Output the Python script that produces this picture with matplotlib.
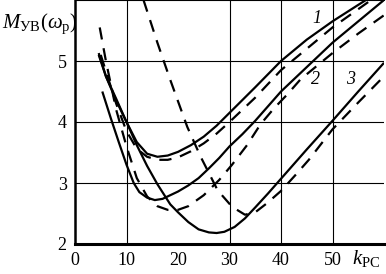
import matplotlib
matplotlib.use("Agg")
import matplotlib.pyplot as plt

plt.rcParams['mathtext.fontset'] = 'custom'
plt.rcParams['mathtext.rm'] = 'Liberation Serif'
plt.rcParams['mathtext.it'] = 'Liberation Serif:italic'
plt.rcParams['font.family'] = ['Liberation Serif', 'DejaVu Serif']

# Solid curves
x1 = [4.6, 6, 8, 10, 12, 14, 16, 18, 20, 22.5, 25, 27.5, 30, 35, 40, 45, 50, 55, 56.5]
y1 = [5.13, 4.75, 4.35, 4.0, 3.67, 3.48, 3.43, 3.45, 3.51, 3.62, 3.76, 3.94, 4.15, 4.57, 5.0, 5.35, 5.65, 5.92, 6.0]

x2 = [5.3, 7, 8.5, 10, 11.4, 12.5, 14, 15.5, 17, 18.5, 20, 22, 24, 26, 28, 30, 32.5, 35, 40, 45, 50, 55, 60]
y2 = [4.5, 4.05, 3.67, 3.3, 3.0, 2.85, 2.76, 2.72, 2.74, 2.8, 2.86, 2.96, 3.08, 3.24, 3.41, 3.6, 3.8, 4.02, 4.5, 4.9, 5.3, 5.65, 6.0]

x3 = [4.6, 6, 8, 10, 12, 14, 16, 18.5, 20, 22, 24, 26, 27.5, 29, 31, 33, 35, 37.5, 40, 45, 50, 55, 60]
y3 = [5.1, 4.75, 4.38, 4.0, 3.62, 3.28, 2.98, 2.65, 2.52, 2.36, 2.24, 2.19, 2.18, 2.2, 2.28, 2.42, 2.6, 2.83, 3.07, 3.55, 4.02, 4.5, 4.97]

# Dashed curves
xd1 = [5, 6.5, 8, 10, 12, 14, 16, 18, 20, 22.5, 25, 27.5, 30, 35, 40, 45, 50, 55, 57.5]
yd1 = [5.1, 4.7, 4.3, 3.85, 3.56, 3.43, 3.38, 3.38, 3.42, 3.52, 3.65, 3.81, 4.0, 4.4, 4.85, 5.2, 5.55, 5.85, 6.0]

xd2 = [4.8, 6, 8, 10, 12, 14, 16, 18, 20, 22, 25, 28, 30.5, 33.4, 36, 38.6, 41.2, 43.8, 50, 55, 60]
yd2 = [5.55, 5.0, 4.2, 3.6, 3.08, 2.78, 2.62, 2.56, 2.56, 2.62, 2.8, 3.05, 3.3, 3.62, 3.96, 4.22, 4.45, 4.7, 5.13, 5.45, 5.75]

xd3 = [13.3, 16, 18.5, 21.8, 24.4, 27.7, 30.5, 33, 35, 37.3, 40, 42.8, 45.4, 50, 55, 60]
yd3 = [6.0, 5.3, 4.69, 3.92, 3.43, 2.88, 2.61, 2.48, 2.52, 2.67, 2.87, 3.13, 3.38, 3.88, 4.32, 4.75]

xticks = [0, 10, 20, 30, 40, 50]
yticks = [2, 3, 4, 5]
xgrid = [10, 30, 40, 50]
ygrid = [3, 4, 5]

curve_labels = ['1', '2', '3']
label_x = [47.0, 46.7, 53.5]
label_y = [5.7, 4.69, 4.69]

fig = plt.figure(figsize=(3.86, 2.74), dpi=100)
ax = fig.add_axes([75/386, 30/274, 309/386, 244/274])
ax.set_xlim(0, 60)
ax.set_ylim(2, 6)

for g in xgrid:
    ax.axvline(g, color='black', lw=0.8, zorder=1)
for g in ygrid:
    ax.axhline(g, color='black', lw=0.8, zorder=1)

lw = 1.6
for xs, ys in [(x1, y1), (x2, y2), (x3, y3)]:
    ax.plot(xs, ys, color='black', lw=lw, solid_capstyle='butt', solid_joinstyle='round', zorder=3)
for xs, ys in [(xd1, yd1), (xd2, yd2), (xd3, yd3)]:
    ax.plot(xs, ys, color='black', lw=lw, dashes=(5.5, 4), dash_capstyle='butt', zorder=3)

for t, lx, ly in zip(curve_labels, label_x, label_y):
    ax.text(lx, ly, t, fontsize=13, style='italic', ha='center', va='center', zorder=4)

ax.set_xticks(xticks)
ax.set_yticks(yticks)
ax.tick_params(length=0, labelsize=13, pad=6)
ax.spines['right'].set_visible(False)
ax.spines['top'].set_linewidth(0.8)
ax.spines['left'].set_linewidth(1.8)
ax.spines['bottom'].set_linewidth(2.2)

fig.text(2/386, 1 - 28/274, r'$M_{\mathrm{УВ}}(\omega_{\mathrm{р}})$', fontsize=15, ha='left', va='baseline')
fig.text(352/386, 1 - 264/274, r'$k_{\mathrm{РС}}$', fontsize=15, ha='left', va='baseline')

fig.savefig('out.png', dpi=100)
